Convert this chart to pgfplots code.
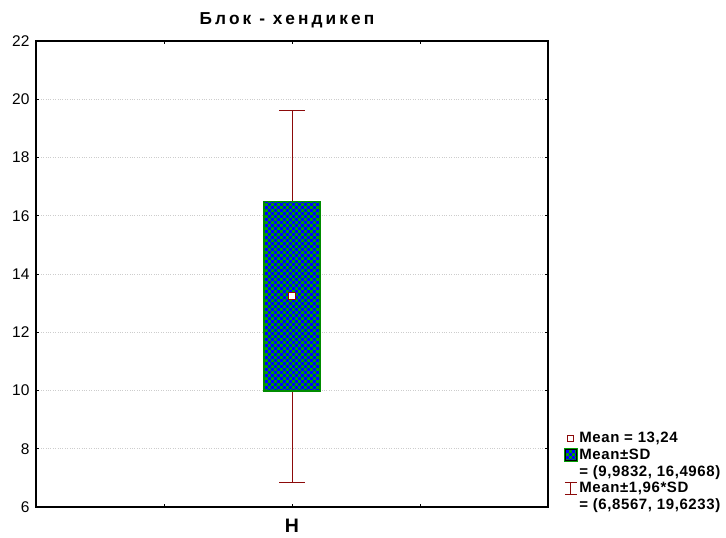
\documentclass[border=0pt]{standalone}
\usepackage{fontspec}
\setmainfont{Liberation Sans}
\newfontfamily\titlefont{Liberation Sans}[LetterSpace=18]
\newfontfamily\legfont{Liberation Sans}[LetterSpace=4]
\usepackage{pgfplots}
\pgfplotsset{compat=1.18}
\usetikzlibrary{patterns}

\definecolor{boxgreen}{RGB}{0,160,0}
\definecolor{boxedge}{RGB}{0,140,0}
\definecolor{boxblue}{RGB}{0,0,255}
\definecolor{whisk}{RGB}{140,10,10}
\definecolor{gridgray}{RGB}{205,205,205}

% checkerboard tile for the Mean±SD box
\pgfdeclarepatternformonly{checkbox}{\pgfpointorigin}{\pgfqpoint{6.4pt}{6.4pt}}{\pgfqpoint{6.4pt}{6.4pt}}{%
  \pgfpathrectangle{\pgfpointorigin}{\pgfqpoint{3.2pt}{3.2pt}}%
  \pgfpathrectangle{\pgfqpoint{3.2pt}{3.2pt}}{\pgfqpoint{3.2pt}{3.2pt}}%
  \pgfusepath{fill}}

\begin{document}
\begin{tikzpicture}
\begin{axis}[
  scale only axis,
  width=512pt, height=466pt,
  xmin=0, xmax=4, ymin=6, ymax=22,
  xtick={0,1,2,3,4}, xticklabels={,,Н,,},
  ytick={6,8,...,22},
  tick align=inside,
  major tick length=3pt,
  axis line style={line width=1.1pt},
  every tick/.style={black, line width=0.9pt},
  ymajorgrids,
  grid style={gridgray, dotted, line width=0.8pt},
  /pgf/number format/assume math mode=true,
  yticklabel style={font=\fontsize{15.5}{17}\selectfont, xshift=-3pt},
  xticklabel style={font=\fontsize{19.5}{21}\selectfont\bfseries, yshift=-9pt},
  title={Блок - хендикеп},
  title style={font=\titlefont\fontsize{17.3}{19}\selectfont\bfseries, yshift=4pt, xshift=-5pt},
  legend style={at={(1,0)}, anchor=south west, xshift=15pt, yshift=-6pt,
    draw=none, fill=none, font=\legfont\fontsize{15}{17}\selectfont\bfseries,
    row sep=2.5pt, inner sep=0.5pt,
    nodes={inner xsep=2pt, inner ysep=1pt}},
  legend cell align=left,
]
% legend entries
\addlegendimage{legend image code/.code={
  \draw[whisk, fill=white, line width=0.8pt] (3pt,-3pt) rectangle ++(6pt,6pt);}}
\addlegendentry{Mean = 13,24}
\addlegendimage{legend image code/.code={
  \fill[boxgreen] (0pt,-6pt) rectangle ++(13pt,13pt);
  \fill[pattern=checkbox, pattern color=boxblue] (1pt,-5pt) rectangle ++(11pt,11pt);}}
\addlegendentry{Mean±SD}
\addlegendimage{empty legend}
\addlegendentry{= (9,9832, 16,4968)}
\addlegendimage{legend image code/.code={
  \draw[whisk, line width=0.9pt] (1pt,-6pt) -- ++(12pt,0pt)
    (1pt,6pt) -- ++(12pt,0pt) (7pt,-6pt) -- ++(0pt,12pt);}}
\addlegendentry{Mean±1,96*SD}
\addlegendimage{empty legend}
\addlegendentry{= (6,8567, 19,6233)}

% Mean±1.96*SD whiskers
\addplot[forget plot, whisk, line width=1pt] coordinates {(2,6.8567) (2,19.6233)};
\addplot[forget plot, whisk, line width=1pt] coordinates {(1.9023,6.8567) (2.0977,6.8567)};
\addplot[forget plot, whisk, line width=1pt] coordinates {(1.9023,19.6233) (2.0977,19.6233)};
% Mean±SD box
\addplot[forget plot, draw=none, fill=boxgreen] coordinates {(1.78,9.9832) (2.22,9.9832) (2.22,16.4968) (1.78,16.4968)} -- cycle;
\addplot[forget plot, draw=none, pattern=checkbox, pattern color=boxblue] coordinates {(1.78,9.9832) (2.22,9.9832) (2.22,16.4968) (1.78,16.4968)} -- cycle;
\addplot[forget plot, draw=boxedge, line width=1.4pt] coordinates {(1.78,9.9832) (2.22,9.9832) (2.22,16.4968) (1.78,16.4968)} -- cycle;
% Mean
\addplot[forget plot, only marks, mark=square*, mark size=3.2pt,
  mark options={fill=white, draw=whisk, line width=1pt}] coordinates {(2,13.24)};
\end{axis}
\pgfresetboundingbox
\path (-36pt,-31pt) rectangle (690pt,507pt);
\end{tikzpicture}
\end{document}
